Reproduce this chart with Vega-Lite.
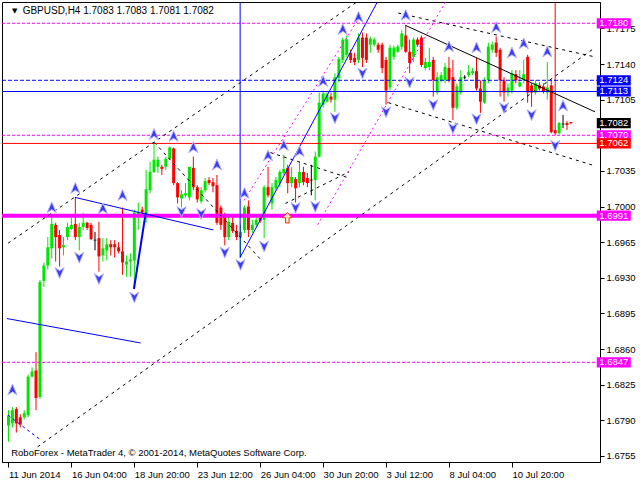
{
"$schema": "https://vega.github.io/schema/vega-lite/v6.json",
"width": 598, "height": 460,
"autosize": {"type": "none"},
"padding": {"left": 2, "top": 2, "right": 40, "bottom": 18},
"background": "white",
"config": {"view": {"stroke": "black", "strokeWidth": 1}, "font": "Liberation Sans"},
"resolve": {"axis": {"x": "independent", "y": "independent"}},
"datasets": {
"candles": [
{"i":0,"o":1.6785,"h":1.6800,"l":1.6769,"c":1.6795},
{"i":1,"o":1.6787,"h":1.6803,"l":1.6783,"c":1.6800},
{"i":2,"o":1.6801,"h":1.6803,"l":1.6778,"c":1.6787},
{"i":3,"o":1.6793,"h":1.6796,"l":1.6783,"c":1.6786},
{"i":4,"o":1.6793,"h":1.6800,"l":1.6791,"c":1.6797},
{"i":5,"o":1.6795,"h":1.6835,"l":1.6793,"c":1.6833},
{"i":6,"o":1.6833,"h":1.6842,"l":1.6832,"c":1.6838},
{"i":7,"o":1.6839,"h":1.6857,"l":1.6800,"c":1.6812},
{"i":8,"o":1.6813,"h":1.6928,"l":1.6811,"c":1.6926},
{"i":9,"o":1.6927,"h":1.6945,"l":1.6921,"c":1.6942},
{"i":10,"o":1.6942,"h":1.6970,"l":1.6938,"c":1.6960},
{"i":11,"o":1.6959,"h":1.6991,"l":1.6949,"c":1.6983},
{"i":12,"o":1.6982,"h":1.6984,"l":1.6946,"c":1.6970},
{"i":13,"o":1.6972,"h":1.6977,"l":1.6941,"c":1.6959},
{"i":14,"o":1.6960,"h":1.6970,"l":1.6952,"c":1.6962},
{"i":15,"o":1.6970,"h":1.6984,"l":1.6967,"c":1.6980},
{"i":16,"o":1.6978,"h":1.6989,"l":1.6977,"c":1.6982},
{"i":17,"o":1.6983,"h":1.7009,"l":1.6967,"c":1.6970},
{"i":18,"o":1.6970,"h":1.6984,"l":1.6957,"c":1.6980},
{"i":19,"o":1.6980,"h":1.6994,"l":1.6977,"c":1.6984},
{"i":20,"o":1.6984,"h":1.6985,"l":1.6977,"c":1.6979},
{"i":21,"o":1.6982,"h":1.6984,"l":1.6967,"c":1.6968},
{"i":22,"o":1.6967,"h":1.6975,"l":1.6957,"c":1.6967},
{"i":23,"o":1.6969,"h":1.6985,"l":1.6936,"c":1.6951},
{"i":24,"o":1.6952,"h":1.6969,"l":1.6946,"c":1.6959},
{"i":25,"o":1.6957,"h":1.6969,"l":1.6947,"c":1.6963},
{"i":26,"o":1.6963,"h":1.6967,"l":1.6952,"c":1.6960},
{"i":27,"o":1.6963,"h":1.6967,"l":1.6950,"c":1.6960},
{"i":28,"o":1.6960,"h":1.6965,"l":1.6954,"c":1.6956},
{"i":29,"o":1.6956,"h":1.6999,"l":1.6933,"c":1.6945},
{"i":30,"o":1.6943,"h":1.6952,"l":1.6931,"c":1.6946},
{"i":31,"o":1.6946,"h":1.6954,"l":1.6931,"c":1.6948},
{"i":32,"o":1.6947,"h":1.6997,"l":1.6920,"c":1.6994},
{"i":33,"o":1.6992,"h":1.7004,"l":1.6977,"c":1.6995},
{"i":34,"o":1.6997,"h":1.7000,"l":1.6989,"c":1.6994},
{"i":35,"o":1.6991,"h":1.7036,"l":1.6984,"c":1.7017},
{"i":36,"o":1.7016,"h":1.7044,"l":1.7013,"c":1.7034},
{"i":37,"o":1.7034,"h":1.7062,"l":1.7033,"c":1.7046},
{"i":38,"o":1.7039,"h":1.7049,"l":1.7033,"c":1.7046},
{"i":39,"o":1.7039,"h":1.7041,"l":1.7031,"c":1.7037},
{"i":40,"o":1.7039,"h":1.7049,"l":1.7036,"c":1.7047},
{"i":41,"o":1.7047,"h":1.7059,"l":1.7046,"c":1.7058},
{"i":42,"o":1.7057,"h":1.7058,"l":1.7021,"c":1.7023},
{"i":43,"o":1.7023,"h":1.7024,"l":1.7003,"c":1.7009},
{"i":44,"o":1.7008,"h":1.7016,"l":1.6999,"c":1.7012},
{"i":45,"o":1.7011,"h":1.7023,"l":1.7009,"c":1.7013},
{"i":46,"o":1.7009,"h":1.7039,"l":1.7006,"c":1.7039},
{"i":47,"o":1.7038,"h":1.7049,"l":1.7016,"c":1.7019},
{"i":48,"o":1.7019,"h":1.7021,"l":1.7004,"c":1.7007},
{"i":49,"o":1.7005,"h":1.7019,"l":1.7003,"c":1.7016},
{"i":50,"o":1.7016,"h":1.7028,"l":1.7014,"c":1.7025},
{"i":51,"o":1.7026,"h":1.7029,"l":1.7021,"c":1.7023},
{"i":52,"o":1.7024,"h":1.7028,"l":1.7014,"c":1.7020},
{"i":53,"o":1.7021,"h":1.7031,"l":1.6982,"c":1.6984},
{"i":54,"o":1.6999,"h":1.7001,"l":1.6977,"c":1.6982},
{"i":55,"o":1.6992,"h":1.6994,"l":1.6962,"c":1.6970},
{"i":56,"o":1.6970,"h":1.6992,"l":1.6967,"c":1.6985},
{"i":57,"o":1.6984,"h":1.6991,"l":1.6974,"c":1.6976},
{"i":58,"o":1.6976,"h":1.6982,"l":1.6967,"c":1.6970},
{"i":59,"o":1.6970,"h":1.6982,"l":1.6950,"c":1.6975},
{"i":60,"o":1.6977,"h":1.7001,"l":1.6974,"c":1.6999},
{"i":61,"o":1.7000,"h":1.7006,"l":1.6970,"c":1.6977},
{"i":62,"o":1.6977,"h":1.6987,"l":1.6974,"c":1.6982},
{"i":63,"o":1.6982,"h":1.6990,"l":1.6980,"c":1.6987},
{"i":64,"o":1.6989,"h":1.6992,"l":1.6984,"c":1.6986},
{"i":65,"o":1.6987,"h":1.7021,"l":1.6969,"c":1.7019},
{"i":66,"o":1.7019,"h":1.7039,"l":1.7009,"c":1.7011},
{"i":67,"o":1.7003,"h":1.7023,"l":1.6997,"c":1.7019},
{"i":68,"o":1.7018,"h":1.7029,"l":1.7016,"c":1.7026},
{"i":69,"o":1.7023,"h":1.7036,"l":1.7019,"c":1.7034},
{"i":70,"o":1.7033,"h":1.7051,"l":1.7031,"c":1.7037},
{"i":71,"o":1.7038,"h":1.7041,"l":1.7013,"c":1.7023},
{"i":72,"o":1.7023,"h":1.7039,"l":1.7019,"c":1.7029},
{"i":73,"o":1.7027,"h":1.7029,"l":1.7004,"c":1.7018},
{"i":74,"o":1.7023,"h":1.7044,"l":1.7019,"c":1.7034},
{"i":75,"o":1.7034,"h":1.7039,"l":1.7021,"c":1.7024},
{"i":76,"o":1.7028,"h":1.7033,"l":1.7019,"c":1.7023},
{"i":77,"o":1.7026,"h":1.7041,"l":1.7011,"c":1.7026},
{"i":78,"o":1.7026,"h":1.7054,"l":1.7006,"c":1.7049},
{"i":79,"o":1.7049,"h":1.7112,"l":1.7048,"c":1.7102},
{"i":80,"o":1.7100,"h":1.7114,"l":1.7097,"c":1.7111},
{"i":81,"o":1.7103,"h":1.7112,"l":1.7102,"c":1.7110},
{"i":82,"o":1.7108,"h":1.7112,"l":1.7102,"c":1.7105},
{"i":83,"o":1.7105,"h":1.7131,"l":1.7093,"c":1.7127},
{"i":84,"o":1.7126,"h":1.7147,"l":1.7122,"c":1.7145},
{"i":85,"o":1.7144,"h":1.7166,"l":1.7141,"c":1.7164},
{"i":86,"o":1.7149,"h":1.7168,"l":1.7147,"c":1.7164},
{"i":87,"o":1.7151,"h":1.7154,"l":1.7141,"c":1.7144},
{"i":88,"o":1.7146,"h":1.7151,"l":1.7139,"c":1.7142},
{"i":89,"o":1.7144,"h":1.7170,"l":1.7141,"c":1.7166},
{"i":90,"o":1.7166,"h":1.7171,"l":1.7137,"c":1.7146},
{"i":91,"o":1.7166,"h":1.7170,"l":1.7141,"c":1.7144},
{"i":92,"o":1.7159,"h":1.7167,"l":1.7151,"c":1.7165},
{"i":93,"o":1.7159,"h":1.7166,"l":1.7157,"c":1.7164},
{"i":94,"o":1.7159,"h":1.7161,"l":1.7151,"c":1.7154},
{"i":95,"o":1.7159,"h":1.7161,"l":1.7131,"c":1.7136},
{"i":96,"o":1.7144,"h":1.7147,"l":1.7100,"c":1.7114},
{"i":97,"o":1.7117,"h":1.7159,"l":1.7114,"c":1.7156},
{"i":98,"o":1.7147,"h":1.7158,"l":1.7144,"c":1.7156},
{"i":99,"o":1.7152,"h":1.7159,"l":1.7151,"c":1.7157},
{"i":100,"o":1.7157,"h":1.7173,"l":1.7154,"c":1.7170},
{"i":101,"o":1.7168,"h":1.7178,"l":1.7151,"c":1.7152},
{"i":102,"o":1.7152,"h":1.7164,"l":1.7131,"c":1.7141},
{"i":103,"o":1.7147,"h":1.7166,"l":1.7142,"c":1.7164},
{"i":104,"o":1.7164,"h":1.7166,"l":1.7157,"c":1.7159},
{"i":105,"o":1.7166,"h":1.7168,"l":1.7137,"c":1.7139},
{"i":106,"o":1.7136,"h":1.7146,"l":1.7134,"c":1.7142},
{"i":107,"o":1.7137,"h":1.7156,"l":1.7134,"c":1.7142},
{"i":108,"o":1.7144,"h":1.7147,"l":1.7108,"c":1.7124},
{"i":109,"o":1.7112,"h":1.7132,"l":1.7110,"c":1.7127},
{"i":110,"o":1.7124,"h":1.7132,"l":1.7122,"c":1.7129},
{"i":111,"o":1.7124,"h":1.7141,"l":1.7121,"c":1.7137},
{"i":112,"o":1.7136,"h":1.7147,"l":1.7122,"c":1.7124},
{"i":113,"o":1.7127,"h":1.7144,"l":1.7085,"c":1.7097},
{"i":114,"o":1.7097,"h":1.7121,"l":1.7095,"c":1.7118},
{"i":115,"o":1.7112,"h":1.7134,"l":1.7110,"c":1.7127},
{"i":116,"o":1.7127,"h":1.7129,"l":1.7125,"c":1.7127},
{"i":117,"o":1.7129,"h":1.7139,"l":1.7127,"c":1.7132},
{"i":118,"o":1.7131,"h":1.7136,"l":1.7129,"c":1.7133},
{"i":119,"o":1.7133,"h":1.7146,"l":1.7114,"c":1.7116},
{"i":120,"o":1.7116,"h":1.7124,"l":1.7092,"c":1.7103},
{"i":121,"o":1.7102,"h":1.7127,"l":1.7101,"c":1.7124},
{"i":122,"o":1.7124,"h":1.7161,"l":1.7121,"c":1.7157},
{"i":123,"o":1.7154,"h":1.7162,"l":1.7151,"c":1.7159},
{"i":124,"o":1.7161,"h":1.7167,"l":1.7147,"c":1.7151},
{"i":125,"o":1.7154,"h":1.7156,"l":1.7108,"c":1.7124},
{"i":126,"o":1.7124,"h":1.7127,"l":1.7103,"c":1.7112},
{"i":127,"o":1.7112,"h":1.7121,"l":1.7108,"c":1.7117},
{"i":128,"o":1.7114,"h":1.7134,"l":1.7111,"c":1.7131},
{"i":129,"o":1.7130,"h":1.7134,"l":1.7121,"c":1.7124},
{"i":130,"o":1.7118,"h":1.7134,"l":1.7117,"c":1.7122},
{"i":131,"o":1.7124,"h":1.7144,"l":1.7121,"c":1.7130},
{"i":132,"o":1.7147,"h":1.7149,"l":1.7102,"c":1.7112},
{"i":133,"o":1.7119,"h":1.7121,"l":1.7098,"c":1.7112},
{"i":134,"o":1.7112,"h":1.7124,"l":1.7110,"c":1.7121},
{"i":135,"o":1.7119,"h":1.7122,"l":1.7114,"c":1.7116},
{"i":136,"o":1.7118,"h":1.7121,"l":1.7111,"c":1.7113},
{"i":137,"o":1.7112,"h":1.7142,"l":1.7105,"c":1.7117},
{"i":138,"o":1.7119,"h":1.7124,"l":1.7072,"c":1.7073},
{"i":139,"o":1.7075,"h":1.7200,"l":1.7070,"c":1.7072},
{"i":140,"o":1.7072,"h":1.7083,"l":1.7071,"c":1.7082},
{"i":141,"o":1.7081,"h":1.7090,"l":1.7077,"c":1.7081},
{"i":142,"o":1.7082,"h":1.7084,"l":1.7075,"c":1.7080},
{"i":143,"o":1.7083,"h":1.7083,"l":1.7081,"c":1.7082}
],
"upArrows": [
{"i":1,"p":1.6820},{"i":11,"p":1.6999},{"i":17,"p":1.7018},{"i":24,"p":1.6998},{"i":29,"p":1.7011},
{"i":37,"p":1.7071},{"i":42,"p":1.7069},{"i":47,"p":1.7058},{"i":53,"p":1.7041},{"i":60,"p":1.7013},
{"i":66,"p":1.7050},{"i":70,"p":1.7060},{"i":74,"p":1.7054},{"i":80,"p":1.7123},{"i":85,"p":1.7174},
{"i":89,"p":1.7186},{"i":101,"p":1.7188},{"i":112,"p":1.7157},{"i":119,"p":1.7156},{"i":124,"p":1.7176},
{"i":128,"p":1.7151},{"i":131,"p":1.7160},{"i":137,"p":1.7152},{"i":141,"p":1.7099}
],
"downArrows": [
{"i":13,"p":1.6935},{"i":18,"p":1.6950},{"i":23,"p":1.6929},{"i":32,"p":1.6911},{"i":44,"p":1.6995},
{"i":49,"p":1.6993},{"i":55,"p":1.6955},{"i":59,"p":1.6943},{"i":65,"p":1.6961},{"i":73,"p":1.6999},
{"i":78,"p":1.7000},{"i":83,"p":1.7087},{"i":90,"p":1.7131},{"i":96,"p":1.7093},{"i":102,"p":1.7122},
{"i":108,"p":1.7100},{"i":113,"p":1.7077},{"i":119,"p":1.7086},{"i":126,"p":1.7097},{"i":133,"p":1.7090},
{"i":139,"p":1.7060}
],
"blueLines": [
{"id":"a","i":16.9,"p":1.7009},{"id":"a","i":52.1,"p":1.6977},
{"id":"b","i":-0.4,"p":1.6890},{"id":"b","i":33.6,"p":1.6866},
{"id":"d","i":58.9,"p":1.6950},{"id":"d","i":93.8,"p":1.7201}
],
"blueThick": [{"i":31.9,"p":1.6919},{"i":34.9,"p":1.6994}],
"blueDashed": [{"i":-0.1,"p":1.6795},{"i":8.1,"p":1.6771}],
"blueVertical": [{"i":58.9,"p":1.6950,"p2":1.7201}],
"blackSolid": [{"i":100.9,"p":1.7178},{"i":149.125,"p":1.7093}],
"blackDashed": [
{"id":"d1","i":7.4,"p":1.6764},{"id":"d1","i":149.1,"p":1.7156},
{"id":"d2","i":-0.1,"p":1.6964},{"id":"d2","i":88.6,"p":1.7201},
{"id":"d3","i":99.1,"p":1.7190},{"id":"d3","i":149.1,"p":1.7147},
{"id":"d4","i":96.6,"p":1.7102},{"id":"d4","i":149.1,"p":1.7040},
{"id":"d5","i":37.1,"p":1.7063},{"id":"d5","i":64.6,"p":1.6946},
{"id":"d6","i":66.6,"p":1.7053},{"id":"d6","i":86.6,"p":1.7028},
{"id":"d7","i":70.4,"p":1.7003},{"id":"d7","i":86.6,"p":1.7034}
],
"magentaDotted": [
{"id":"m1","i":59.9,"p":1.7006},{"id":"m1","i":89.1,"p":1.7185},
{"id":"m2","i":78.6,"p":1.6982},{"id":"m2","i":111.1,"p":1.7201}
],
"levels": [{"p":1.7180},{"p":1.7124},{"p":1.7113},{"p":1.7070},{"p":1.7062},{"p":1.6991},{"p":1.6847}],
"tags": [
{"p":1.7180,"t":"1.7180"},{"p":1.7124,"t":"1.7124"},{"p":1.7113,"t":"1.7113"},{"p":1.7082,"t":"1.7082"},
{"p":1.7070,"t":"1.7070"},{"p":1.7062,"t":"1.7062"},{"p":1.6991,"t":"1.6991"},{"p":1.6847,"t":"1.6847"}
]
},
"layer": [
{
"data": {"name": "candles"},
"mark": {"type": "rule", "strokeWidth": 1},
"encoding": {
"x": {"field": "i", "type": "quantitative", "scale": {"domain": [-0.375, 149.125], "nice": false, "zero": false},
 "axis": {"orient": "bottom", "values": [0,16,32,48,64,80,96,112,128], "labelExpr": "['11 Jun 2014','16 Jun 04:00','18 Jun 20:00','23 Jun 12:00','26 Jun 04:00','30 Jun 20:00','3 Jul 12:00','8 Jul 04:00','10 Jul 20:00'][round(datum.value/16)]", "labelAlign": "left", "labelDx": 1, "labelPadding": 2, "tickSize": 5, "tickColor": "black", "domainColor": "black", "labelColor": "black", "labelFont": "Liberation Sans", "labelFontSize": 9.5, "grid": false, "title": null, "labelOverlap": false, "labelFlush": false, "labelBound": false}},
"y": {"field": "l", "type": "quantitative", "scale": {"domain": [1.67491, 1.72009], "nice": false, "zero": false},
 "axis": {"orient": "right", "values": [1.6755,1.679,1.6825,1.686,1.6895,1.693,1.6965,1.7,1.7035,1.7105,1.714,1.7175], "format": ".4f", "tickSize": 4, "tickColor": "black", "domainColor": "black", "labelColor": "black", "labelFont": "Liberation Sans", "labelFontSize": 9.5, "labelPadding": 2, "grid": false, "title": null, "labelOverlap": false, "labelFlush": false, "labelBound": false}},
"y2": {"field": "h"},
"color": {"condition": [{"test": "datum.c > datum.o", "value": "#00e600"}, {"test": "datum.c < datum.o", "value": "#ff0000"}], "value": "#000000"}
}
},
{
"data": {"name": "candles"},
"transform": [{"filter": "datum.c != datum.o"}],
"mark": {"type": "bar", "width": 3},
"encoding": {
"x": {"field": "i", "type": "quantitative", "scale": {"domain": [-0.375, 149.125], "nice": false, "zero": false}, "axis": null},
"y": {"field": "o", "type": "quantitative", "scale": {"domain": [1.67491, 1.72009], "nice": false, "zero": false}, "axis": null},
"y2": {"field": "c"},
"color": {"condition": {"test": "datum.c > datum.o", "value": "#00e600"}, "value": "#ff0000"}
}
},
{
"data": {"name": "candles"},
"transform": [{"filter": "datum.c == datum.o"}],
"mark": {"type": "tick", "orient": "horizontal", "size": 3, "thickness": 1, "color": "#000000"},
"encoding": {
"x": {"field": "i", "type": "quantitative", "scale": {"domain": [-0.375, 149.125], "nice": false, "zero": false}, "axis": null},
"y": {"field": "c", "type": "quantitative", "scale": {"domain": [1.67491, 1.72009], "nice": false, "zero": false}, "axis": null}
}
},
{"data": {"name": "levels"}, "transform": [{"filter": "datum.p == 1.718 || datum.p == 1.707 || datum.p == 1.6847"}], "mark": {"type": "rule", "color": "#ff00ff", "strokeDash": [3, 2]}, "encoding": {"y": {"field": "p", "type": "quantitative", "scale": {"domain": [1.67491, 1.72009], "nice": false, "zero": false}, "axis": null}}},
{"data": {"name": "levels"}, "transform": [{"filter": "datum.p == 1.7124"}], "mark": {"type": "rule", "color": "#0000ff", "strokeDash": [4, 2]}, "encoding": {"y": {"field": "p", "type": "quantitative", "scale": {"domain": [1.67491, 1.72009], "nice": false, "zero": false}, "axis": null}}},
{"data": {"name": "levels"}, "transform": [{"filter": "datum.p == 1.7113"}], "mark": {"type": "rule", "color": "#0000ff"}, "encoding": {"y": {"field": "p", "type": "quantitative", "scale": {"domain": [1.67491, 1.72009], "nice": false, "zero": false}, "axis": null}}},
{"data": {"name": "levels"}, "transform": [{"filter": "datum.p == 1.7062"}], "mark": {"type": "rule", "color": "#ff0000"}, "encoding": {"y": {"field": "p", "type": "quantitative", "scale": {"domain": [1.67491, 1.72009], "nice": false, "zero": false}, "axis": null}}},
{"data": {"name": "levels"}, "transform": [{"filter": "datum.p == 1.6991"}], "mark": {"type": "rule", "color": "#ff00ff", "strokeWidth": 4}, "encoding": {"y": {"field": "p", "type": "quantitative", "scale": {"domain": [1.67491, 1.72009], "nice": false, "zero": false}, "axis": null}}},
{
"data": {"name": "blackDashed"},
"mark": {"type": "line", "color": "#000000", "strokeWidth": 1, "strokeDash": [3, 4], "clip": true},
"encoding": {
"x": {"field": "i", "type": "quantitative", "scale": {"domain": [-0.375, 149.125], "nice": false, "zero": false}, "axis": null},
"y": {"field": "p", "type": "quantitative", "scale": {"domain": [1.67491, 1.72009], "nice": false, "zero": false}, "axis": null},
"detail": {"field": "id"}
}
},
{
"data": {"name": "magentaDotted"},
"mark": {"type": "line", "color": "#ff00ff", "strokeWidth": 1, "strokeDash": [2, 3], "clip": true},
"encoding": {
"x": {"field": "i", "type": "quantitative", "scale": {"domain": [-0.375, 149.125], "nice": false, "zero": false}, "axis": null},
"y": {"field": "p", "type": "quantitative", "scale": {"domain": [1.67491, 1.72009], "nice": false, "zero": false}, "axis": null},
"detail": {"field": "id"}
}
},
{
"data": {"name": "blackSolid"},
"mark": {"type": "line", "color": "#000000", "strokeWidth": 1, "clip": true},
"encoding": {
"x": {"field": "i", "type": "quantitative", "scale": {"domain": [-0.375, 149.125], "nice": false, "zero": false}, "axis": null},
"y": {"field": "p", "type": "quantitative", "scale": {"domain": [1.67491, 1.72009], "nice": false, "zero": false}, "axis": null}
}
},
{
"data": {"name": "blueLines"},
"mark": {"type": "line", "color": "#0000ff", "strokeWidth": 1, "clip": true},
"encoding": {
"x": {"field": "i", "type": "quantitative", "scale": {"domain": [-0.375, 149.125], "nice": false, "zero": false}, "axis": null},
"y": {"field": "p", "type": "quantitative", "scale": {"domain": [1.67491, 1.72009], "nice": false, "zero": false}, "axis": null},
"detail": {"field": "id"}
}
},
{
"data": {"name": "blueThick"},
"mark": {"type": "line", "color": "#0000ff", "strokeWidth": 2, "clip": true},
"encoding": {
"x": {"field": "i", "type": "quantitative", "scale": {"domain": [-0.375, 149.125], "nice": false, "zero": false}, "axis": null},
"y": {"field": "p", "type": "quantitative", "scale": {"domain": [1.67491, 1.72009], "nice": false, "zero": false}, "axis": null}
}
},
{
"data": {"name": "blueDashed"},
"mark": {"type": "line", "color": "#0000ff", "strokeWidth": 1, "strokeDash": [3, 3], "clip": true},
"encoding": {
"x": {"field": "i", "type": "quantitative", "scale": {"domain": [-0.375, 149.125], "nice": false, "zero": false}, "axis": null},
"y": {"field": "p", "type": "quantitative", "scale": {"domain": [1.67491, 1.72009], "nice": false, "zero": false}, "axis": null}
}
},
{
"data": {"name": "blueVertical"},
"mark": {"type": "rule", "color": "#0000ff", "strokeWidth": 1, "clip": true},
"encoding": {
"x": {"field": "i", "type": "quantitative", "scale": {"domain": [-0.375, 149.125], "nice": false, "zero": false}, "axis": null},
"y": {"field": "p", "type": "quantitative", "scale": {"domain": [1.67491, 1.72009], "nice": false, "zero": false}, "axis": null},
"y2": {"field": "p2"}
}
},
{
"data": {"name": "upArrows"},
"mark": {"type": "point", "shape": "M0,-1L0.8,0.9L0,0.35L-0.8,0.9Z", "size": 130, "filled": true, "fill": "#3c3cf0", "stroke": "#b4b4ff", "strokeWidth": 1, "opacity": 1},
"encoding": {
"x": {"field": "i", "type": "quantitative", "scale": {"domain": [-0.375, 149.125], "nice": false, "zero": false}, "axis": null},
"y": {"field": "p", "type": "quantitative", "scale": {"domain": [1.67491, 1.72009], "nice": false, "zero": false}, "axis": null}
}
},
{
"data": {"name": "downArrows"},
"mark": {"type": "point", "shape": "M0,1L0.8,-0.9L0,-0.35L-0.8,-0.9Z", "size": 130, "filled": true, "fill": "#3c3cf0", "stroke": "#b4b4ff", "strokeWidth": 1, "opacity": 1},
"encoding": {
"x": {"field": "i", "type": "quantitative", "scale": {"domain": [-0.375, 149.125], "nice": false, "zero": false}, "axis": null},
"y": {"field": "p", "type": "quantitative", "scale": {"domain": [1.67491, 1.72009], "nice": false, "zero": false}, "axis": null}
}
},
{
"data": {"values": [{"i": 70.9, "p": 1.6989}]},
"mark": {"type": "point", "shape": "M0,-1L0.9,0L0.35,0L0.35,1L-0.35,1L-0.35,0L-0.9,0Z", "size": 110, "filled": true, "fill": "#ffe0c0", "stroke": "#ff3300", "strokeWidth": 1, "opacity": 1},
"encoding": {
"x": {"field": "i", "type": "quantitative", "scale": {"domain": [-0.375, 149.125], "nice": false, "zero": false}, "axis": null},
"y": {"field": "p", "type": "quantitative", "scale": {"domain": [1.67491, 1.72009], "nice": false, "zero": false}, "axis": null}
}
},
{
"data": {"name": "tags"},
"mark": {"type": "point", "shape": "M-1,-0.3L1,-0.3L1,0.3L-1,0.3Z", "size": 1156, "filled": true, "opacity": 1, "strokeWidth": 0},
"encoding": {
"x": {"datum": 153.9, "type": "quantitative", "scale": {"domain": [-0.375, 149.125], "nice": false, "zero": false}, "axis": null},
"y": {"field": "p", "type": "quantitative", "scale": {"domain": [1.67491, 1.72009], "nice": false, "zero": false}, "axis": null},
"color": {"field": "t", "type": "nominal", "legend": null, "scale": {"domain": ["1.7180","1.7124","1.7113","1.7082","1.7070","1.7062","1.6991","1.6847"], "range": ["#ff00ff","#0000ff","#0000ff","#000000","#ff00ff","#ff0000","#ff00ff","#ff00ff"]}}
}
},
{
"data": {"name": "tags"},
"mark": {"type": "text", "color": "#ffffff", "font": "Liberation Sans", "fontSize": 9.5, "align": "center", "baseline": "middle"},
"encoding": {
"x": {"datum": 153.9, "type": "quantitative", "scale": {"domain": [-0.375, 149.125], "nice": false, "zero": false}, "axis": null},
"y": {"field": "p", "type": "quantitative", "scale": {"domain": [1.67491, 1.72009], "nice": false, "zero": false}, "axis": null},
"text": {"field": "t"}
}
},
{
"data": {"values": [{"t": "GBPUSD,H4  1.7083 1.7083 1.7081 1.7082"}]},
"mark": {"type": "text", "color": "#000000", "font": "Liberation Sans", "fontSize": 10, "align": "left", "baseline": "middle"},
"encoding": {
"x": {"datum": 3.6, "type": "quantitative", "scale": {"domain": [-0.375, 149.125], "nice": false, "zero": false}, "axis": null},
"y": {"datum": 1.7192, "type": "quantitative", "scale": {"domain": [1.67491, 1.72009], "nice": false, "zero": false}, "axis": null},
"text": {"field": "t"}
}
},
{
"data": {"values": [{"t": "▼"}]},
"mark": {"type": "text", "color": "#000000", "font": "DejaVu Sans", "fontSize": 7, "align": "center", "baseline": "middle"},
"encoding": {
"x": {"datum": 1.6, "type": "quantitative", "scale": {"domain": [-0.375, 149.125], "nice": false, "zero": false}, "axis": null},
"y": {"datum": 1.7192, "type": "quantitative", "scale": {"domain": [1.67491, 1.72009], "nice": false, "zero": false}, "axis": null},
"text": {"field": "t"}
}
},
{
"data": {"values": [{"t": "RoboForex - MetaTrader 4, © 2001-2014, MetaQuotes Software Corp."}]},
"mark": {"type": "text", "color": "#000000", "font": "Liberation Sans", "fontSize": 9.5, "align": "left", "baseline": "middle"},
"encoding": {
"x": {"datum": 0.7, "type": "quantitative", "scale": {"domain": [-0.375, 149.125], "nice": false, "zero": false}, "axis": null},
"y": {"datum": 1.6758, "type": "quantitative", "scale": {"domain": [1.67491, 1.72009], "nice": false, "zero": false}, "axis": null},
"text": {"field": "t"}
}
}
]
}
